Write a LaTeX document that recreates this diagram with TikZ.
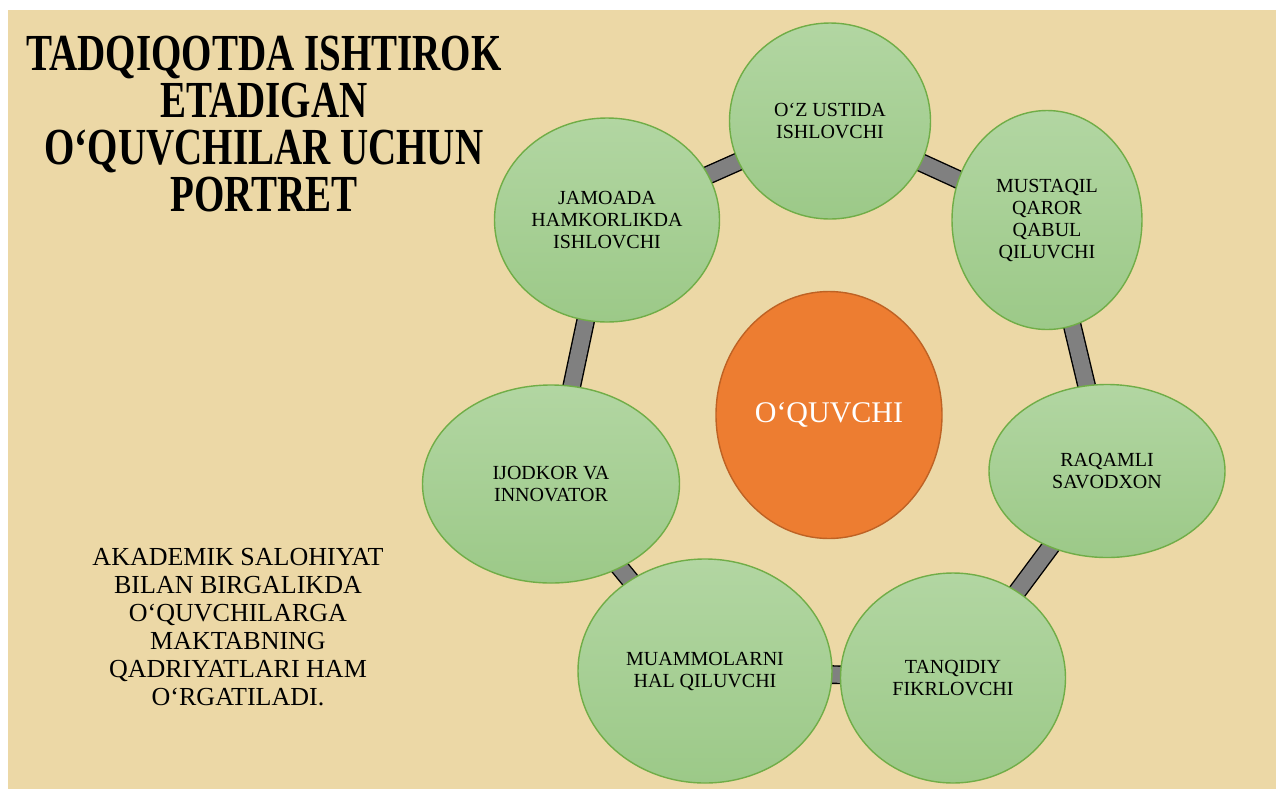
\documentclass[tikz,border=0pt]{standalone}
\usepackage{fontspec}
\setmainfont{Liberation Serif}
\newfontfamily\titlefont{Liberation Serif}[FakeStretch=0.75]
\usetikzlibrary{shapes.geometric, backgrounds}

\definecolor{parchment}{RGB}{236,216,166}
\definecolor{leaftop}{RGB}{178,214,162}
\definecolor{leafbot}{RGB}{156,201,136}
\definecolor{leafline}{RGB}{112,173,71}
\definecolor{coreorange}{RGB}{237,125,49}
\definecolor{coreline}{RGB}{190,98,36}
\definecolor{ringgray}{RGB}{128,128,128}

\begin{document}
\begin{tikzpicture}[x=0.5pt, y=-0.5pt,
  trait/.style={ellipse, draw=leafline, line width=0.7pt, top color=leaftop,
    bottom color=leafbot, inner sep=0pt, align=center,
    font=\fontsize{10}{11}\selectfont},
  core/.style={ellipse, draw=coreline, line width=0.7pt, fill=coreorange,
    inner sep=0pt, text=white, font=\fontsize{15}{17}\selectfont},
  ring/.style={draw=black, line width=0.7pt, double=ringgray, double distance=8pt}]

\useasboundingbox (0,0) rectangle (1276,789);

\node[core, minimum width=113pt, minimum height=123.5pt] (learner) at (829,415) {O‘QUVCHI};

\node[trait, minimum width=100.5pt, minimum height=98pt] (self) at (830,121) {O‘Z USTIDA\\ISHLOVCHI};
\node[trait, minimum width=95pt, minimum height=109.5pt] (decide) at (1047,220) {MUSTAQIL\\QAROR\\QABUL\\QILUVCHI};
\node[trait, minimum width=118pt, minimum height=86.5pt] (digital) at (1107,471) {RAQAMLI\\SAVODXON};
\node[trait, minimum width=112.5pt, minimum height=105pt] (critic) at (953,678) {TANQIDIY\\FIKRLOVCHI};
\node[trait, minimum width=127pt, minimum height=112pt] (solve) at (705,671) {MUAMMOLARNI\\HAL QILUVCHI};
\node[trait, minimum width=128.5pt, minimum height=99pt] (create) at (551,484) {IJODKOR VA\\INNOVATOR};
\node[trait, minimum width=112.5pt, minimum height=102pt] (team) at (607,220) {JAMOADA\\HAMKORLIKDA\\ISHLOVCHI};

\begin{scope}[on background layer]
\fill[white] (0,0) rectangle (1276,789);
\fill[parchment] (8,10) rectangle (1276,789);
\draw[ring] (self.center) -- (decide.center);
\draw[ring] (decide.center) -- (digital.center);
\draw[ring] (digital.center) -- (critic.center);
\draw[ring] (critic.center) -- (solve.center);
\draw[ring] (solve.center) -- (create.center);
\draw[ring] (create.center) -- (team.center);
\draw[ring] (team.center) -- (self.center);
\end{scope}

\node[align=center, font=\titlefont\bfseries\fontsize{26}{23.5}\selectfont] (title) at (264,124)
  {TADQIQOTDA ISHTIROK\\ETADIGAN\\O‘QUVCHILAR UCHUN\\PORTRET};

\node[align=center, font=\fontsize{13}{14}\selectfont] (note) at (238,627)
  {AKADEMIK SALOHIYAT\\BILAN BIRGALIKDA\\O‘QUVCHILARGA\\MAKTABNING\\QADRIYATLARI HAM\\O‘RGATILADI.};

\end{tikzpicture}
\end{document}
